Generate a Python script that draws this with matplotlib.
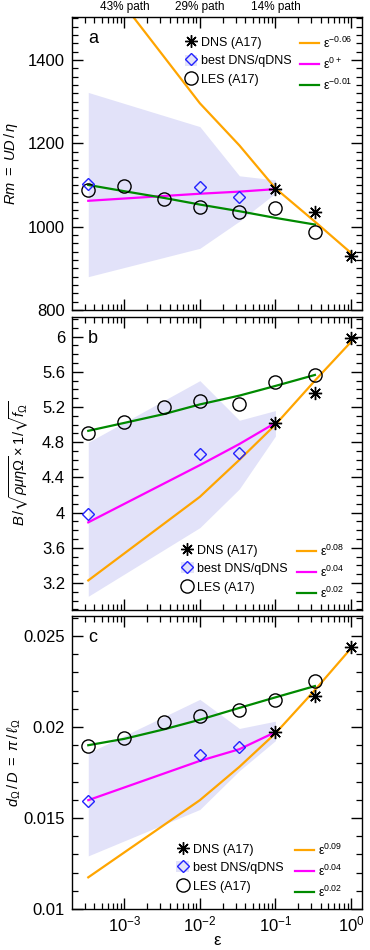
import numpy as np
import matplotlib
matplotlib.use('Agg')
import matplotlib.pyplot as plt
from matplotlib.lines import Line2D
from matplotlib.patches import Patch
from matplotlib.legend_handler import HandlerTuple
from matplotlib.ticker import LogLocator, NullFormatter, FuncFormatter, MultipleLocator

plt.rcParams['font.family'] = ['Liberation Sans', 'DejaVu Sans']
plt.rcParams['mathtext.fontset'] = 'custom'
plt.rcParams['mathtext.rm'] = 'Liberation Sans'
plt.rcParams['mathtext.it'] = 'Liberation Sans:italic'
plt.rcParams['mathtext.bf'] = 'Liberation Sans:bold'
plt.rcParams['mathtext.sf'] = 'Liberation Sans'
plt.rcParams['mathtext.fallback'] = 'stixsans'

# ---------------- data ----------------
eps_les = [1/3000, 1/1000, 1/300, 1/100, 1/30, 1/10, 1/3]
eps_dns = [1/10, 1/3, 1.0]
eps_best = [1/3000, 1/100, 1/30]
eps_orange = [1/3000, 1/100, 1/30, 1/10, 1/3, 1.0]
eps_magenta = [1/3000, 1/100, 1/30, 1/10]
eps_green = [1/3000, 1/1000, 1/300, 1/100, 1/30, 1/10, 1/3]
eps_shade = [1/3000, 1/100, 1/30, 1/10]

# panel a: Rm
dns_a = [1090, 1035, 929]
les_a = [1088, 1098, 1066, 1046, 1035, 1045, 987]
best_a = [1102, 1094, 1070]
orange_a = [1643, 1296, 1195, 1092, 1012, 937]
magenta_a = [1062, 1079, 1084, 1090]
green_a = [1100, 1085, 1069, 1053, 1037, 1021, 1005]
shade_a_hi = [1322, 1240, 1122, 1112]
shade_a_lo = [880, 948, 1013, 1080]

# panel b: B
dns_b = [5.02, 5.36, 5.99]
les_b = [4.90, 5.03, 5.20, 5.27, 5.24, 5.49, 5.56]
best_b = [3.99, 4.665, 4.675]
orange_b = [3.23, 4.18, 4.60, 5.00, 5.50, 5.94]
magenta_b = [3.89, 4.54, 4.78, 5.02]
green_b = [4.93, 5.02, 5.12, 5.23, 5.33, 5.44, 5.565]
shade_b_hi = [4.80, 5.50, 5.05, 5.16]
shade_b_lo = [3.05, 3.83, 4.27, 4.87]

# panel c: d/D
dns_c = [0.01974, 0.0217, 0.02438]
les_c = [0.01897, 0.01941, 0.02027, 0.02058, 0.02091, 0.02148, 0.02251]
best_c = [0.01594, 0.01845, 0.01888]
orange_c = [0.01174, 0.01598, 0.01781, 0.01965, 0.02203, 0.02432]
magenta_c = [0.01598, 0.01814, 0.01878, 0.01972]
green_c = [0.0190, 0.01935, 0.01987, 0.02040, 0.02105, 0.02163, 0.02225]
shade_c_hi = [0.01857, 0.02152, 0.01992, 0.02032]
shade_c_lo = [0.01292, 0.01547, 0.0176, 0.01925]

fit_labels_a = ['ε$^{-0.06}$', 'ε$^{0+}$', 'ε$^{-0.01}$']
fit_labels_b = ['ε$^{0.08}$', 'ε$^{0.04}$', 'ε$^{0.02}$']
fit_labels_c = ['ε$^{0.09}$', 'ε$^{0.04}$', 'ε$^{0.02}$']
series_labels = ['DNS (A17)', 'best DNS/qDNS', 'LES (A17)']
path_ticks = [1e-3, 1e-2, 1e-1]
path_labels = ['43% path', '29% path', '14% path']

# ---------------- style ----------------
C_OR = '#ffa500'
C_MA = '#ff00ff'
C_GR = '#008a00'
C_SH = '#e2e2f9'
C_DI = '#2222ff'
STAR = (8, 2, 0)

W, H = 370, 950
fig = plt.figure(figsize=(3.7, 9.5), dpi=100)
left = 72 / W
width = 290 / W

def ax_at(top, bottom):
    return fig.add_axes([left, 1 - bottom / H, width, (bottom - top) / H])

ax_a = ax_at(17, 310)
ax_b = ax_at(316.5, 610)
ax_c = ax_at(616, 909)

def xfmt(v, pos):
    e = int(round(np.log10(v)))
    return '10$^{%d}$' % e

panels = [
    (ax_a, dns_a, les_a, best_a, orange_a, magenta_a, green_a, shade_a_hi, shade_a_lo,
     fit_labels_a, 'a', r'$Rm\ =\ UD\,/\,\eta$', (800, 1503), 200, 20, -0.178),
    (ax_b, dns_b, les_b, best_b, orange_b, magenta_b, green_b, shade_b_hi, shade_b_lo,
     fit_labels_b, 'b', r'$B\,/\sqrt{\rho\mu\eta\Omega}\times 1/\sqrt{f_\Omega}$', (2.894, 6.229), 0.4, 0.1, -0.14),
    (ax_c, dns_c, les_c, best_c, orange_c, magenta_c, green_c, shade_c_hi, shade_c_lo,
     fit_labels_c, 'c', r'$d_\Omega\,/\,D\ =\ \pi\,/\,\ell_\Omega$', (0.01, 0.0261), 0.005, 0.001, -0.17),
]

for (ax, dns, les, best, orv, mav, grv, shi, slo, flabels, letter, ylab, ylim, maj, mnr, ylx) in panels:
    ax.set_xscale('log')
    ax.set_xlim(2.03e-4, 1.4)
    ax.set_ylim(*ylim)
    ax.fill_between(eps_shade, slo, shi, color=C_SH, lw=0, zorder=0)
    ax.plot(eps_orange, orv, color=C_OR, lw=1.6, zorder=2)
    ax.plot(eps_magenta, mav, color=C_MA, lw=1.6, zorder=2)
    ax.plot(eps_green, grv, color=C_GR, lw=1.6, zorder=2)
    ax.plot(eps_les, les, ls='none', marker='o', ms=9.5, mfc='none', mec='black', mew=1.0, zorder=3)
    ax.plot(eps_best, best, ls='none', marker='D', ms=6.5, mfc='none', mec=C_DI, mew=1.0, zorder=3)
    ax.plot(eps_dns, dns, ls='none', marker=STAR, ms=9.5, mec='black', mew=1.0, zorder=4)
    ax.plot(eps_dns, dns, ls='none', marker='o', ms=2.5, mfc='black', mec='black', zorder=4)

    ax.yaxis.set_major_locator(MultipleLocator(maj))
    ax.yaxis.set_minor_locator(MultipleLocator(mnr))
    ax.xaxis.set_major_locator(LogLocator(base=10, numticks=20))
    ax.xaxis.set_minor_locator(LogLocator(base=10, subs=np.arange(2, 10), numticks=20))
    ax.xaxis.set_minor_formatter(NullFormatter())
    ax.tick_params(which='both', direction='in', top=True, right=True, labelsize=12, pad=5)
    ax.tick_params(which='major', length=8, width=1)
    ax.tick_params(which='minor', length=4.5, width=0.9)
    for s in ax.spines.values():
        s.set_linewidth(1.0)
    if ax is ax_c:
        ax.xaxis.set_major_formatter(FuncFormatter(xfmt))
        ax.tick_params(axis='x', pad=4)
        ax.set_xlabel('ε', fontsize=12, labelpad=-1)
    else:
        ax.tick_params(axis='x', labelbottom=False)
    ax.yaxis.set_major_formatter(FuncFormatter(lambda v, p: '%g' % round(v, 6)))
    ax.set_ylabel(ylab, fontsize=10.5)
    ax.yaxis.set_label_coords(ylx, 0.5)
    ax.text(0.055, 0.91, letter, transform=ax.transAxes, fontsize=13, va='baseline', ha='left')

    # legends
    h_dns = Line2D([], [], ls='none', marker=STAR, ms=9, mec='black', mew=1.0)
    h_dot = Line2D([], [], ls='none', marker='o', ms=2.5, mfc='black', mec='black')
    h_best = (Patch(facecolor=C_SH, edgecolor='none'),
              Line2D([], [], ls='none', marker='D', ms=6.5, mfc='none', mec=C_DI, mew=1.0))
    h_les = Line2D([], [], ls='none', marker='o', ms=9.5, mfc='none', mec='black', mew=1.0)
    h_fits = [Line2D([], [], color=c, lw=1.6) for c in (C_OR, C_MA, C_GR)]
    if ax is ax_a:
        pos_m, pos_l = (0.389, 0.935), (0.786, 0.935)
    elif ax is ax_b:
        pos_m, pos_l = (0.376, 0.226), (0.776, 0.226)
    else:
        pos_m, pos_l = (0.36, 0.226), (0.769, 0.226)
    leg1 = ax.legend([(h_dns, h_dot), h_best, h_les], series_labels, loc='upper left',
                     bbox_to_anchor=pos_m, frameon=False, fontsize=9, handlelength=1.0,
                     handleheight=1.0, handletextpad=0.3, labelspacing=0.45, borderpad=0,
                     borderaxespad=0,
                     handler_map={tuple: HandlerTuple(ndivide=1, pad=0)})
    ax.add_artist(leg1)
    ax.legend(h_fits, flabels, loc='upper left', bbox_to_anchor=pos_l, frameon=False,
              fontsize=9, handlelength=1.5, handleheight=1.0, handletextpad=0.35,
              labelspacing=0.45, borderpad=0, borderaxespad=0)

for xv, lab in zip(path_ticks, path_labels):
    ax_a.text(xv, 1.0 + 10 / 293, lab, transform=ax_a.get_xaxis_transform(),
              ha='center', va='center', fontsize=8.5)

fig.savefig('out.png', dpi=100)
